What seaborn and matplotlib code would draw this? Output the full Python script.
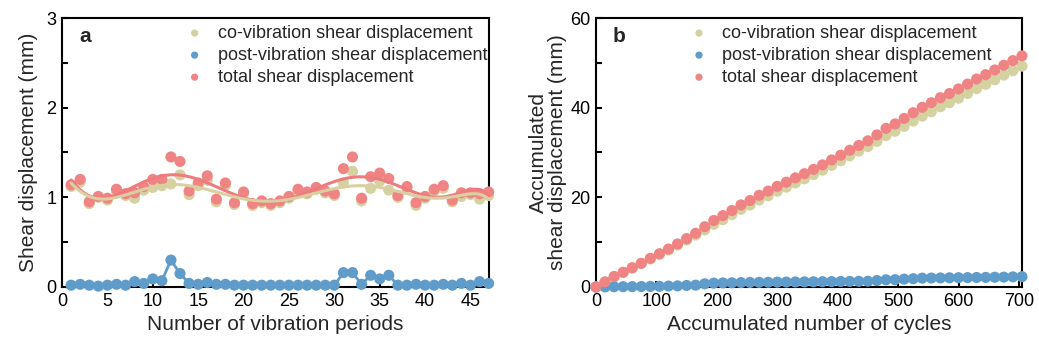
import numpy as np
import pandas as pd
import matplotlib
matplotlib.use("Agg")
import matplotlib.pyplot as plt
from matplotlib.ticker import MultipleLocator
import seaborn as sns

# ---------------- data ----------------
periods = list(range(1, 48))
total_disp = [1.14, 1.20, 0.95, 1.01, 0.99, 1.09, 1.04, 1.05, 1.12, 1.20,
              1.20, 1.45, 1.40, 1.07, 1.16, 1.24, 0.98, 1.16, 0.94, 1.06,
              0.93, 0.96, 0.93, 0.96, 1.01, 1.09, 1.06, 1.11, 1.07, 1.04,
              1.32, 1.45, 0.99, 1.23, 1.27, 1.21, 1.02, 1.12, 0.94, 1.01,
              1.09, 1.13, 0.97, 1.05, 1.05, 1.04, 1.06]
post_disp = [0.02, 0.03, 0.02, 0.01, 0.02, 0.03, 0.02, 0.06, 0.04, 0.09,
             0.07, 0.30, 0.15, 0.04, 0.03, 0.05, 0.03, 0.03, 0.02, 0.02,
             0.02, 0.02, 0.02, 0.02, 0.02, 0.02, 0.02, 0.02, 0.02, 0.02,
             0.16, 0.16, 0.03, 0.13, 0.09, 0.13, 0.02, 0.02, 0.03, 0.02,
             0.02, 0.03, 0.02, 0.04, 0.02, 0.06, 0.04]
co_disp = [1.12, 1.17, 0.93, 1.00, 0.97, 1.06, 1.02, 0.99, 1.08, 1.11,
           1.13, 1.15, 1.25, 1.03, 1.13, 1.19, 0.95, 1.13, 0.92, 1.04,
           0.91, 0.94, 0.91, 0.94, 0.99, 1.07, 1.04, 1.09, 1.05, 1.02,
           1.16, 1.29, 0.96, 1.10, 1.18, 1.08, 1.00, 1.10, 0.91, 0.99,
           1.07, 1.10, 0.95, 1.01, 1.03, 0.98, 1.02]
cycles_per_period = 15

labels = ["co-vibration shear displacement",
          "post-vibration shear displacement",
          "total shear displacement"]

c_co = "#D5D2A2"
c_post = "#5F9CC9"
c_tot = "#F08484"
c_co_line = "#D9CFA0"
c_tot_line = "#EE7B7E"

# accumulated series (panel b)
cycles = np.arange(0, (len(periods) + 1) * cycles_per_period, cycles_per_period)
acc_co = np.concatenate([[0], np.cumsum(co_disp)])
acc_post = np.concatenate([[0], np.cumsum(post_disp)])
acc_tot = np.concatenate([[0], np.cumsum(total_disp)])

# ---------------- style ----------------
sns.set_theme(style="ticks")
plt.rcParams["font.family"] = ["Liberation Sans", "DejaVu Sans"]
plt.rcParams["axes.linewidth"] = 1.5

fig = plt.figure(figsize=(10.39, 3.43), dpi=100)
axA = fig.add_axes([0.0597, 0.1633, 0.4106, 0.7842])
axB = fig.add_axes([0.5736, 0.1633, 0.4100, 0.7842])

ms = 64

# smooth fits for panel a
xs = np.linspace(1, 47, 400)
def poly_fit(x, y, deg=8):
    xn = (np.asarray(x) - 24) / 23.0
    coef = np.polyfit(xn, y, deg)
    return np.polyval(coef, (xs - 24) / 23.0)

fit_co = poly_fit(periods, co_disp)
fit_tot = poly_fit(periods, total_disp)

dfa = pd.DataFrame({"x": periods, "co": co_disp, "post": post_disp, "tot": total_disp})

sns.scatterplot(data=dfa, x="x", y="co", ax=axA, color=c_co, s=ms, edgecolor="none", zorder=3, label=labels[0])
sns.lineplot(x=periods, y=post_disp, ax=axA, color=c_post, lw=2, zorder=4)
sns.scatterplot(data=dfa, x="x", y="post", ax=axA, color=c_post, s=ms, edgecolor="none", zorder=5, label=labels[1])
sns.scatterplot(data=dfa, x="x", y="tot", ax=axA, color=c_tot, s=ms, edgecolor="none", zorder=3.5, label=labels[2])
sns.lineplot(x=xs, y=fit_tot, ax=axA, color=c_tot_line, lw=2.2, zorder=6)
sns.lineplot(x=xs, y=fit_co, ax=axA, color=c_co_line, lw=2.2, zorder=6.5)

dfb = pd.DataFrame({"x": cycles, "co": acc_co, "post": acc_post, "tot": acc_tot})
sns.scatterplot(data=dfb, x="x", y="co", ax=axB, color=c_co, s=ms, edgecolor="none", zorder=3, label=labels[0])
sns.scatterplot(data=dfb, x="x", y="post", ax=axB, color=c_post, s=ms, edgecolor="none", zorder=4, label=labels[1])
sns.scatterplot(data=dfb, x="x", y="tot", ax=axB, color=c_tot, s=ms, edgecolor="none", zorder=5, label=labels[2])

for ax, lx in ((axA, 0.26), (axB, 0.191)):
    for sp in ax.spines.values():
        sp.set_visible(True)
        sp.set_linewidth(1.5)
        sp.set_color("black")
    ax.tick_params(which="both", direction="in", top=False, right=False,
                   labelsize=13, width=1.5, colors="black", pad=4)
    ax.tick_params(which="major", length=4)
    ax.tick_params(which="minor", length=4)
    ax.legend(loc="upper left", bbox_to_anchor=(lx, 1.015), frameon=False,
              fontsize=13.0, handlelength=1.2, handletextpad=0.7,
              labelspacing=0.28, markerscale=0.65, borderaxespad=0.2)

axA.set_xlim(0, 47)
axA.set_ylim(0, 3)
axA.xaxis.set_major_locator(MultipleLocator(5))
axA.yaxis.set_major_locator(MultipleLocator(1))
axA.yaxis.set_minor_locator(MultipleLocator(0.5))
axA.set_xlabel("Number of vibration periods", fontsize=15)
axA.set_ylabel("Shear displacement (mm)", fontsize=15, labelpad=6)
axA.text(0.04, 0.93, "a", transform=axA.transAxes, fontsize=15, fontweight="bold", va="center")

axB.set_xlim(0, 705)
axB.set_ylim(0, 60)
axB.xaxis.set_major_locator(MultipleLocator(100))
axB.yaxis.set_major_locator(MultipleLocator(20))
axB.yaxis.set_minor_locator(MultipleLocator(10))
axB.set_xlabel("Accumulated number of cycles", fontsize=15)
axB.set_ylabel("Accumulated\nshear displacement (mm)", fontsize=15, linespacing=1.05, labelpad=2)
axB.text(0.04, 0.93, "b", transform=axB.transAxes, fontsize=15, fontweight="bold", va="center")

for ax in (axA, axB):
    for coll in ax.collections:
        coll.set_clip_on(False)

fig.savefig("out.png", dpi=100)
